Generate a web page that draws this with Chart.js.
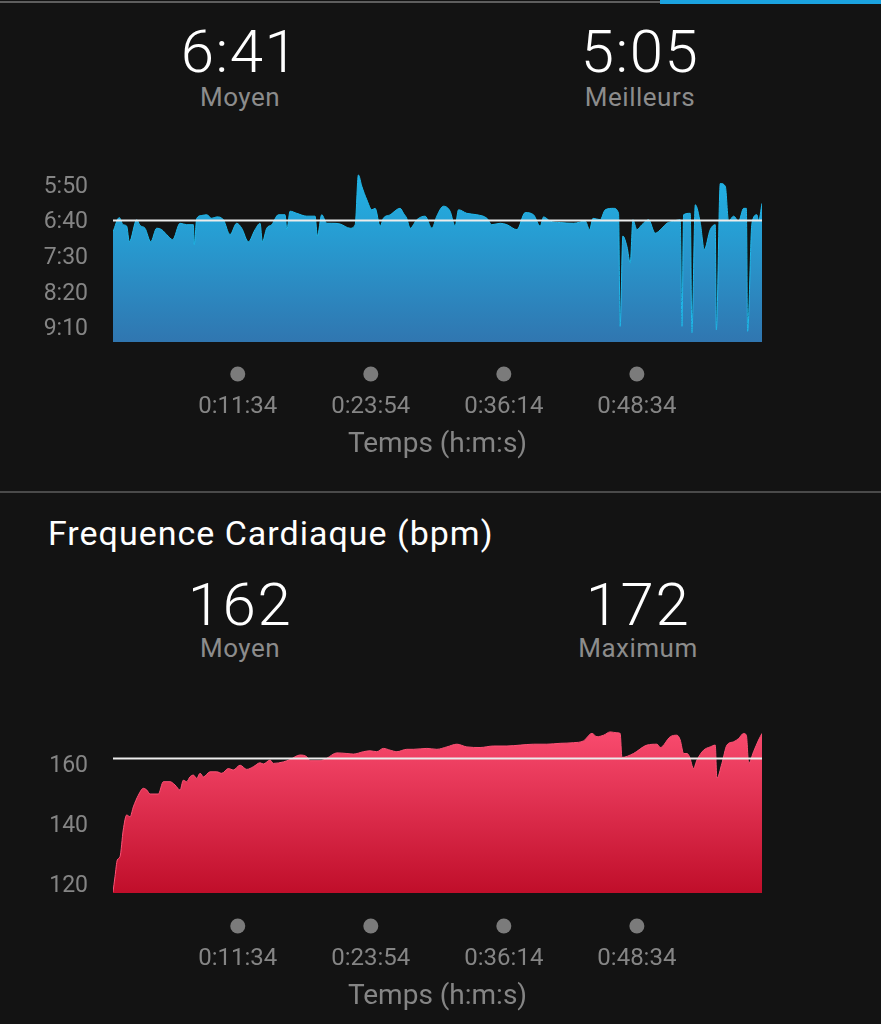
<!DOCTYPE html>
<html>
<head>
<meta charset="utf-8">
<script src="https://cdn.jsdelivr.net/npm/chart.js@4.4.1/dist/chart.umd.min.js"></script>
<style>
  body { margin: 0; background: #131313; width: 881px; height: 1024px; overflow: hidden; position: relative; font-family: Roboto, "Liberation Sans", sans-serif; }
  .big { position: absolute; color: #fff; font-weight: 300; font-size: 60px; letter-spacing: 1.5px; line-height: 1; transform: translateX(-50%); white-space: nowrap; }
  .sub { position: absolute; color: #8c8c8c; font-size: 26px; letter-spacing: 0.5px; line-height: 1; transform: translateX(-50%); white-space: nowrap; }
  .head { position: absolute; color: #fff; font-size: 34px; letter-spacing: 1px; line-height: 1; left: 48px; top: 516px; white-space: nowrap; }
  canvas { position: absolute; left: 0; }
</style>
</head>
<body>
<div style="position:absolute;left:0;top:1px;width:660px;height:2px;background:#5e5e5e"></div>
<div style="position:absolute;left:660px;top:0;width:221px;height:4px;background:#1ba3e0"></div>

<div class="big" style="left:240px;top:22px">6:41</div>
<div class="sub" style="left:240px;top:84px">Moyen</div>
<div class="big" style="left:640px;top:22px">5:05</div>
<div class="sub" style="left:640px;top:84px">Meilleurs</div>

<canvas id="paceChart" width="881" height="318" style="top:150px"></canvas>

<div style="position:absolute;left:0;top:491px;width:881px;height:2px;background:#4a4a4a"></div>

<div class="head">Frequence Cardiaque (bpm)</div>
<div class="big" style="left:240px;top:575px">162</div>
<div class="sub" style="left:240px;top:635px">Moyen</div>
<div class="big" style="left:638px;top:575px">172</div>
<div class="sub" style="left:638px;top:635px">Maximum</div>

<canvas id="hrChart" width="881" height="318" style="top:700px"></canvas>

<script>
// time in seconds since start, pace in seconds per km
const paceTimes = [0, 35, 56, 76, 91, 132, 150, 178, 210, 243, 271, 299, 332, 373, 410, 447, 452, 466, 494, 521,
  549, 577, 614, 651, 688, 716, 753, 790, 818, 831, 855, 883, 920, 957, 967, 985, 1022, 1078, 1124, 1137,
  1161, 1189, 1217, 1263, 1319, 1347, 1365, 1384, 1412, 1440, 1458, 1486, 1504, 1542, 1597, 1616, 1634, 1653, 1690, 1736,
  1774, 1801, 1838, 1875, 1903, 1922, 1968, 2024, 2080, 2107, 2154, 2191, 2247, 2293, 2339, 2376, 2395, 2432, 2488, 2562,
  2627, 2651, 2670, 2710, 2738, 2784, 2812, 2821, 2836, 2859, 2877, 2892, 2914, 2942, 2979, 3016, 3053, 3081, 3118, 3155,
  3165, 3174, 3211, 3220, 3239, 3267, 3289, 3322, 3350, 3356, 3378, 3406, 3424, 3452, 3480, 3508, 3523, 3530, 3554, 3582,
  3591, 3610];
const paceValues = [417, 397, 407, 409, 431, 400, 408, 412, 431, 412, 414, 421, 428, 405, 407, 407, 435, 398, 394, 393,
  398, 396, 400, 421, 405, 412, 431, 414, 405, 431, 412, 407, 393, 393, 414, 388, 391, 395, 395, 423,
  393, 405, 405, 406, 412, 407, 337, 353, 372, 386, 384, 409, 398, 393, 384, 391, 398, 412, 400, 395,
  412, 395, 381, 388, 409, 386, 391, 393, 398, 407, 405, 407, 414, 390, 393, 409, 396, 402, 404, 405,
  402, 414, 398, 400, 386, 384, 391, 550, 423, 438, 461, 400, 414, 407, 400, 419, 412, 405, 402, 400,
  550, 393, 391, 559, 379, 405, 442, 414, 407, 555, 349, 353, 402, 395, 402, 384, 384, 557, 405, 393,
  402, 377];

const hrTimes = [0, 11, 24, 39, 57, 76, 95, 113, 141, 169, 188, 206, 252, 280, 317, 345, 373, 391, 410, 428,
  447, 466, 484, 503, 540, 577, 605, 642, 669, 707, 744, 781, 818, 836, 874, 892, 948, 985, 1041, 1078,
  1096, 1152, 1189, 1245, 1301, 1337, 1393, 1430, 1467, 1504, 1542, 1579, 1634, 1671, 1746, 1801, 1857, 1913, 1968, 2042,
  2116, 2191, 2265, 2339, 2413, 2488, 2562, 2617, 2664, 2692, 2729, 2766, 2803, 2821, 2831, 2895, 2970, 3026, 3044, 3100,
  3137, 3155, 3174, 3193, 3207, 3229, 3248, 3285, 3322, 3350, 3359, 3387, 3415, 3452, 3480, 3508, 3523, 3536, 3563, 3591,
  3610];
const hrValues = [117, 122.1, 127.7, 128.8, 137.7, 142.7, 142.1, 145.4, 149.3, 151.6, 151, 149.7, 149.7, 153.8, 153.8, 152.7, 151, 154.3, 153.8, 155.4,
  156, 154.9, 156.6, 155.4, 157.1, 157.1, 156.6, 158.2, 157.7, 159.3, 157.9, 158.8, 160.1, 159.7, 161, 159.9, 160.4, 161.2, 162.7, 162.1,
  160.8, 160.8, 161.6, 163.4, 163.2, 163, 163.8, 164.1, 163.8, 164.9, 164.3, 163.8, 164.6, 164.6, 164.9, 164.6, 165.4, 166.3, 165.4, 165.2,
  165.7, 165.7, 166, 166.3, 166.3, 166.6, 166.8, 167.4, 169.9, 168.8, 169.3, 170.4, 170.1, 169.9, 161.9, 163.2, 166, 166.3, 165.2, 168.8,
  169.3, 167.7, 163.2, 163.2, 162.1, 158.2, 161, 164.3, 165.4, 166, 154.9, 159.9, 166, 167.1, 168.2, 169.9, 169.3, 159.9, 163.8, 167.7,
  169.9];

const timeTicks = [694, 1434, 2174, 2914];
const paceTicks = [350, 400, 450, 500, 550];
const hrTicks = [120, 140, 160];
const paceAvg = 401;
const hrAvg = 161.5;
const totalTime = 3610;
const paceRange = [316, 572];
const hrRange = [116.7, 176.7];

function fmtPace(s) {
  const m = Math.floor(s / 60);
  const r = Math.round(s % 60);
  return m + ':' + String(r).padStart(2, '0');
}

function fmtTime(s) {
  const h = Math.floor(s / 3600);
  const m = Math.floor((s % 3600) / 60);
  const r = s % 60;
  return h + ':' + String(m).padStart(2, '0') + ':' + String(r).padStart(2, '0');
}

// grey dots above each time label
const tickDots = {
  id: 'tickDots',
  afterDraw(chart, args, opts) {
    const x = chart.scales.x;
    const ctx = chart.ctx;
    ctx.save();
    ctx.fillStyle = '#7b7b7b';
    x.ticks.forEach(function (t) {
      ctx.beginPath();
      ctx.arc(x.getPixelForValue(t.value), chart.chartArea.bottom + opts.offset, 7.5, 0, Math.PI * 2);
      ctx.fill();
    });
    ctx.restore();
  }
};

function gradient(top, bottom) {
  return function (context) {
    const area = context.chart.chartArea;
    if (!area) return top;
    const g = context.chart.ctx.createLinearGradient(0, area.top, 0, area.bottom);
    g.addColorStop(0, top);
    g.addColorStop(1, bottom);
    return g;
  };
}

function makeChart(id, times, values, avg, range, yTicks, yFormat, reverse, fill, colors, layout) {
  const ctx = document.getElementById(id).getContext('2d');
  return new Chart(ctx, {
    type: 'line',
    data: {
      datasets: [{
        // average line, drawn on top
        data: [{ x: 0, y: avg }, { x: totalTime, y: avg }],
        borderColor: '#ececec',
        borderWidth: 2,
        pointRadius: 0,
        fill: false
      }, {
        data: times.map((t, i) => ({ x: t, y: values[i] })),
        borderColor: colors[0],
        borderWidth: 1,
        backgroundColor: gradient(colors[0], colors[1]),
        pointRadius: 0,
        cubicInterpolationMode: 'monotone',
        fill: fill
      }]
    },
    options: {
      responsive: false,
      animation: false,
      devicePixelRatio: 1,
      layout: { padding: { left: 0, right: 119, top: layout.top, bottom: 0 } },
      plugins: {
        legend: { display: false },
        tooltip: { enabled: false },
        tickDots: { offset: layout.dot }
      },
      scales: {
        x: {
          type: 'linear',
          min: 0,
          max: totalTime,
          grid: { display: false, drawTicks: false },
          border: { display: false },
          afterBuildTicks: s => { s.ticks = timeTicks.map(v => ({ value: v })); },
          afterFit: s => { s.height = layout.xHeight; s.paddingLeft = 0; s.paddingRight = 0; },
          ticks: {
            color: '#858585',
            font: { size: 24, family: 'Roboto' },
            padding: layout.labelPad,
            maxRotation: 0,
            autoSkip: false,
            callback: v => fmtTime(v)
          },
          title: {
            display: true,
            text: 'Temps (h:m:s)',
            color: '#858585',
            font: { size: 28, family: 'Roboto' },
            padding: { top: 0, bottom: layout.titlePad }
          }
        },
        y: {
          reverse: reverse,
          min: range[0],
          max: range[1],
          grid: { display: false, drawTicks: false },
          border: { display: false },
          afterBuildTicks: s => { s.ticks = yTicks.map(v => ({ value: v })); },
          afterFit: s => { s.width = 113; s.paddingTop = 0; s.paddingBottom = 0; },
          ticks: {
            color: '#858585',
            font: { size: 23, family: 'Roboto' },
            padding: 25,
            labelOffset: 3,
            callback: v => yFormat(v)
          }
        }
      }
    },
    plugins: [tickDots]
  });
}

makeChart('paceChart', paceTimes, paceValues, paceAvg, paceRange, paceTicks, fmtPace, true,
  { value: paceRange[1] }, ['rgb(32, 184, 234)', 'rgb(48, 118, 176)'],
  { top: 10, xHeight: 126, dot: 32, labelPad: 51, titlePad: 6 });

makeChart('hrChart', hrTimes, hrValues, hrAvg, hrRange, hrTicks, v => String(v), false,
  'start', ['rgb(255, 82, 118)', 'rgb(192, 14, 42)'],
  { top: 13, xHeight: 125, dot: 33, labelPad: 52, titlePad: 4 });
</script>
</body>
</html>
